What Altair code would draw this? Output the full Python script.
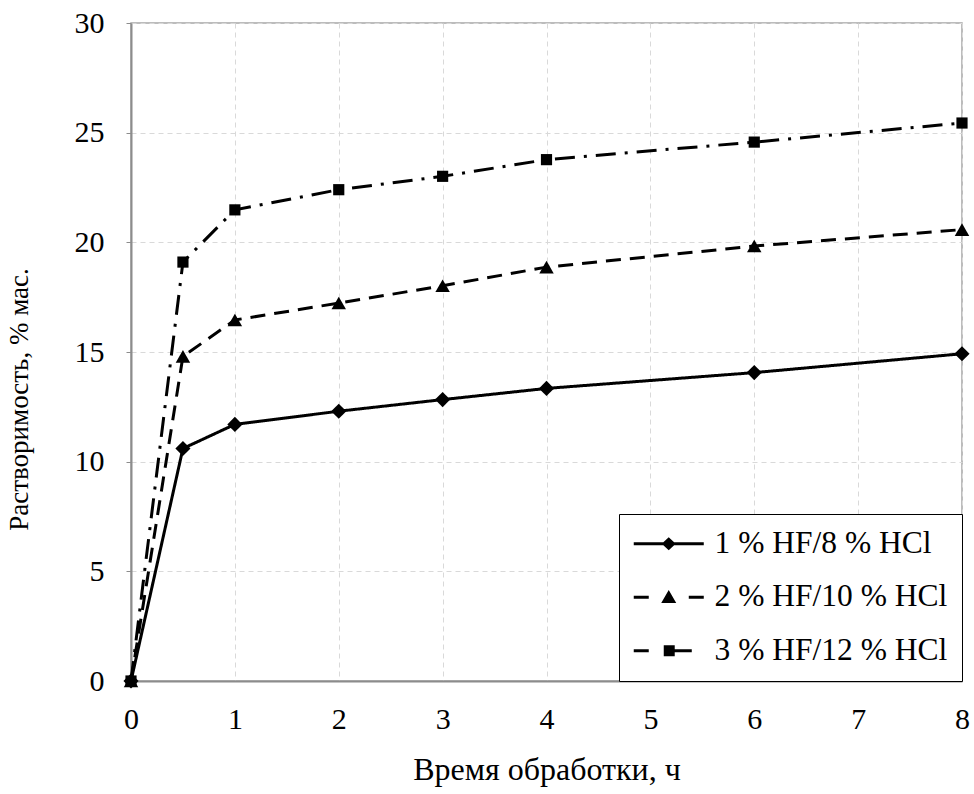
import altair as alt
import pandas as pd

time_h = [0, 0.5, 1, 2, 3, 4, 6, 8]
series_names = ["1 % HF/8 % HCl", "2 % HF/10 % HCl", "3 % HF/12 % HCl"]
s1 = [0, 10.6, 11.7, 12.3, 12.83, 13.34, 14.06, 14.92]
s2 = [0, 14.8, 16.46, 17.23, 18.02, 18.87, 19.83, 20.58]
s3 = [0, 19.1, 21.48, 22.4, 23.01, 23.77, 24.57, 25.44]
x_ticks = [0, 1, 2, 3, 4, 5, 6, 7, 8]
y_ticks = [0, 5, 10, 15, 20, 25, 30]

rows = []
for name, vals in zip(series_names, [s1, s2, s3]):
    for t, v in zip(time_h, vals):
        rows.append({"series": name, "t": t, "v": v})
df = pd.DataFrame(rows)

FONT = "Liberation Serif"

x_enc = alt.X("t:Q", scale=alt.Scale(domain=[0, 8], nice=False),
              axis=alt.Axis(values=x_ticks, title="Время обработки, ч", format="d",
                            labelPadding=23, titlePadding=20, ticks=False,
                            labelFlush=False, titleFontSize=32))
y_enc = alt.Y("v:Q", scale=alt.Scale(domain=[0, 30], nice=False),
              axis=alt.Axis(values=y_ticks, title="Растворимость, % мас.",
                            tickSize=5, labelPadding=22, titleX=-98, titleY=376,
                            labelFlush=False, titleFontSize=27))

base = alt.Chart(df)

styles = [
    (series_names[0], [1, 0], "diamond", 230),
    (series_names[1], [15, 9], "triangle-up", 210),
    (series_names[2], [20, 9, 3, 9], "square", 125),
]

layers = []
for name, dash, shape, size in styles:
    sub = base.transform_filter(alt.datum.series == name)
    layers.append(sub.mark_line(color="black", strokeWidth=3, strokeDash=dash).encode(x=x_enc, y=y_enc))
    layers.append(sub.mark_point(shape=shape, filled=True, color="black", size=size, opacity=1).encode(x=x_enc, y=y_enc))

# legend symbols: line segment(s) + marker drawn as filled custom paths (unit coords)
legend_paths = [
    "M-2.5,-0.25H9.17V0.25H-2.5Z M3.33,-1.08L4.5,0L3.33,1.08L2.16,0Z",
    "M-2.5,-0.25H0V0.25H-2.5Z M6.67,-0.25H9.17V0.25H6.67Z M3.33,-1.2L4.58,0.95L2.08,0.95Z",
    "M-2.5,-0.25H0V0.25H-2.5Z M2.5,-0.92H4.33V0.92H2.5Z M4.33,-0.25H7.17V0.25H4.33Z",
]

legend_layer = base.transform_filter("false").mark_point(
    filled=True, color="black", opacity=1
).encode(
    x=x_enc, y=y_enc,
    shape=alt.Shape("series:N",
                    scale=alt.Scale(domain=series_names, range=legend_paths),
                    legend=alt.Legend(title=None, orient="bottom-right", offset=0,
                                      symbolSize=144, symbolStrokeWidth=0,
                                      symbolFillColor="black",
                                      labelFont=FONT, labelFontSize=31.5, labelColor="black",
                                      labelOffset=50, rowPadding=20.5, padding=14,
                                      strokeColor="black", fillColor="white",
                                      labelLimit=0, cornerRadius=0)),
)

chart = alt.layer(*layers, legend_layer).properties(
    width=831, height=658,
    background="white",
    autosize=alt.AutoSizeParams(type="none"),
    padding={"left": 131, "top": 23, "right": 12, "bottom": 113},
).configure_view(
    stroke="#a6a6a6", strokeWidth=1.5
).configure_axis(
    labelFont=FONT, labelFontSize=30, labelColor="black",
    titleFont=FONT, titleColor="black", titleFontWeight="normal",
    domainColor="#8c8c8c", domainWidth=2, tickColor="#8c8c8c",
    grid=True, gridColor="#d9d9d9", gridDash=[5, 4], gridWidth=1,
)

chart.save("out.html", embed_options={"renderer": "svg", "actions": False})
